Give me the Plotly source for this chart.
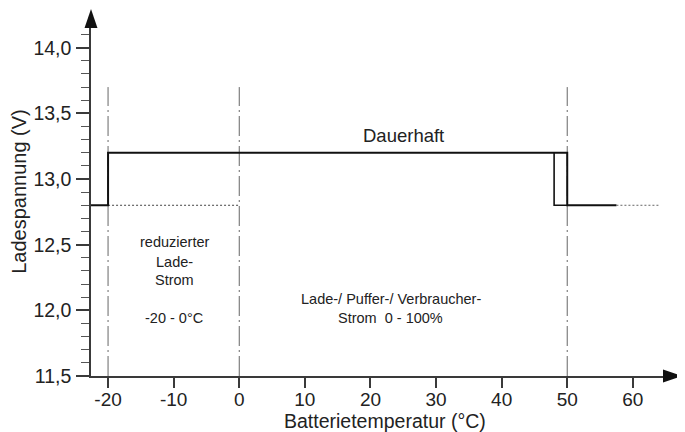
import plotly.graph_objects as go

# ---- data ----
x_tick_vals = [-20, -10, 0, 10, 20, 30, 40, 50, 60]
x_tick_text = ["-20", "-10", "0", "10", "20", "30", "40", "50", "60"]
y_tick_vals = [11.5, 12.0, 12.5, 13.0, 13.5, 14.0]
y_tick_text = ["11,5", "12,0", "12,5", "13,0", "13,5", "14,0"]

# main charging-voltage curve
curve_temp = [-22.6, -20, -20, 50, 50, 57.5]
curve_volt = [12.8, 12.8, 13.2, 13.2, 12.8, 12.8]
# hysteresis edge
hyst_temp = [48, 48, 50]
hyst_volt = [13.2, 12.8, 12.8]
# dotted continuation lines
dot1_temp = [-20, 0]
dot1_volt = [12.8, 12.8]
dot2_temp = [57.5, 64]
dot2_volt = [12.8, 12.8]
# dash-dot boundary lines
boundary_temps = [-20, 0, 50]
boundary_top = 13.7

X_RANGE = [-22.6, 64.6]
Y_RANGE = [11.5, 14.15]

FONT = "Liberation Sans, Arial, sans-serif"
TXT = "#222222"
AX = "#3a3a3a"

fig = go.Figure()

for t in boundary_temps:
    fig.add_trace(go.Scatter(x=[t, t], y=[Y_RANGE[0], boundary_top], mode="lines",
                             line=dict(color="#666666", width=1, dash="20px,4px,2px,4px"),
                             hoverinfo="skip", showlegend=False))

fig.add_trace(go.Scatter(x=dot1_temp, y=dot1_volt, mode="lines",
                         line=dict(color="#444444", width=1, dash="2px,2px"),
                         showlegend=False))
fig.add_trace(go.Scatter(x=dot2_temp, y=dot2_volt, mode="lines",
                         line=dict(color="#666666", width=1, dash="2px,2px"),
                         showlegend=False))
fig.add_trace(go.Scatter(x=curve_temp, y=curve_volt, mode="lines",
                         line=dict(color="#111111", width=2),
                         showlegend=False))
fig.add_trace(go.Scatter(x=hyst_temp, y=hyst_volt, mode="lines",
                         line=dict(color="#111111", width=1.6),
                         showlegend=False))

# annotations (text labels)
def txt(x, y, s, size=14.5):
    fig.add_annotation(x=x, y=y, xref="x", yref="y", text=s, showarrow=False,
                       font=dict(family=FONT, size=size, color=TXT),
                       xanchor="center", yanchor="middle")

txt(25.0, 13.33, "Dauerhaft", 18.5)
txt(-9.9, 12.52, "reduzierter")
txt(-9.9, 12.37, "Lade-")
txt(-9.9, 12.23, "Strom")
txt(-9.9, 11.94, "-20 - 0°C")
txt(23.1, 12.09, "Lade-/ Puffer-/ Verbraucher-")
txt(23.1, 11.945, "Strom  0 - 100%")

# axis titles
fig.add_annotation(x=-0.126, y=0.532, xref="paper", yref="paper", text="Ladespannung (V)",
                   textangle=-90, showarrow=False,
                   font=dict(family=FONT, size=20, color=TXT),
                   xanchor="center", yanchor="middle")
fig.add_annotation(x=0.514, y=-0.128, xref="paper", yref="paper",
                   text="Batterietemperatur (°C)", showarrow=False,
                   font=dict(family=FONT, size=19.5, color=TXT),
                   xanchor="center", yanchor="middle")

# axis arrows
fig.add_shape(type="path", xref="paper", yref="paper",
              path="M -0.0113 1 L 0.0113 1 L 0 1.0546 Z",
              fillcolor="#111111", line=dict(width=0))
fig.add_shape(type="path", xref="paper", yref="paper",
              path="M 1 -0.0187 L 1 0.0187 L 1.0332 0 Z",
              fillcolor="#111111", line=dict(width=0))

fig.update_xaxes(range=X_RANGE, showgrid=False, zeroline=False,
                 showline=True, linecolor=AX, linewidth=1.5,
                 tickmode="array", tickvals=x_tick_vals, ticktext=x_tick_text,
                 ticks="outside", ticklen=10, tickwidth=1.5, tickcolor=AX,
                 ticklabelstandoff=-5,
                 tickfont=dict(family=FONT, size=19, color=TXT))
fig.update_yaxes(range=Y_RANGE, showgrid=False, zeroline=False,
                 showline=True, linecolor=AX, linewidth=1.5,
                 tickmode="array", tickvals=y_tick_vals, ticktext=y_tick_text,
                 ticks="outside", ticklen=13, tickwidth=2, tickcolor=AX,
                 ticklabelstandoff=1,
                 tickfont=dict(family=FONT, size=19.5, color=TXT),
                 minor=dict(tickmode="linear", tick0=11.5, dtick=0.1, ticks="outside",
                            ticklen=8, tickwidth=1, tickcolor="#555555"))

fig.update_layout(width=677, height=424,
                  margin=dict(l=83, r=22, t=20, b=56),
                  paper_bgcolor="white", plot_bgcolor="white",
                  showlegend=False)

fig.write_html("out.html")
